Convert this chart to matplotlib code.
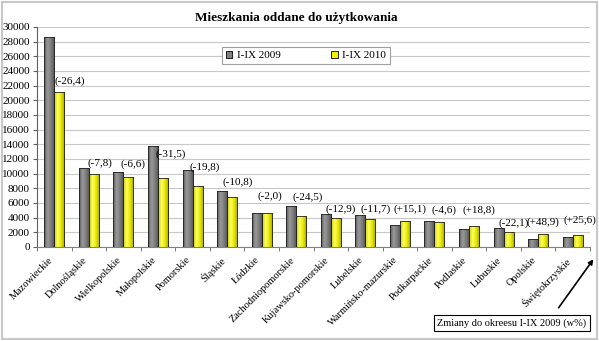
import numpy as np
import matplotlib.pyplot as plt
from matplotlib.patches import Patch, Rectangle
from matplotlib.colors import LinearSegmentedColormap

plt.rcParams['font.family'] = ['Liberation Serif', 'DejaVu Serif']

# data
regions = ['Mazowieckie', 'Dolnośląskie', 'Wielkopolskie', 'Małopolskie',
           'Pomorskie', 'Śląskie', 'Łódzkie', 'Zachodniopomorskie',
           'Kujawsko-pomorskie', 'Lubelskie', 'Warmińsko-mazurskie',
           'Podkarpackie', 'Podlaskie', 'Lubuskie', 'Opolskie',
           'Świętokrzyskie']
y2009 = [28700, 10730, 10250, 13730, 10450, 7590, 4680, 5590,
         4500, 4380, 3050, 3600, 2430, 2600, 1150, 1300]
y2010 = [21120, 9890, 9580, 9400, 8380, 6770, 4590, 4220,
         3920, 3870, 3510, 3435, 2885, 2025, 1712, 1633]
changes = ['(-26,4)', '(-7,8)', '(-6,6)', '(-31,5)', '(-19,8)', '(-10,8)',
           '(-2,0)', '(-24,5)', '(-12,9)', '(-11,7)', '(+15,1)', '(-4,6)',
           '(+18,8)', '(-22,1)', '(+48,9)', '(+25,6)']
# vertical gap (pixels) of each change label above the 2010 bar
label_gap = [11, 11, 13, 24, 18, 15, 17, 19, 9, 9, 12, 12, 16, 9, 12, 15]
label_dx = [10, 6, 5, 8, 7, 6, 3, 6, 5, 5, 5, 5, 5, 5, 0, 2]

fig = plt.figure(figsize=(5.99, 3.41), dpi=100)
ax = fig.add_axes([37 / 599, 1 - 247 / 341, 553 / 599, 220 / 341])

x = np.arange(len(regions))
w = 0.29
b1 = ax.bar(x - w / 2, y2009, w, color='#808080', edgecolor='#202020', lw=0.6, zorder=2)
b2 = ax.bar(x + w / 2, y2010, w, color='#f0f000', edgecolor='#202020', lw=0.6, zorder=2)

# cylinder-like shading on the bars
grey_cm = LinearSegmentedColormap.from_list('g', ['#5a5a5a', '#9a9a9a', '#7a7a7a', '#505050'])
yell_cm = LinearSegmentedColormap.from_list('y', ['#c8c800', '#ffff60', '#e6e600', '#a0a000'])
grad = np.linspace(0, 1, 64).reshape(1, -1)
for bars, cm in ((b1, grey_cm), (b2, yell_cm)):
    for p in bars:
        x0, y0 = p.get_x(), p.get_y()
        im = ax.imshow(grad, cmap=cm, aspect='auto', zorder=2.1,
                       extent=(x0, x0 + p.get_width(), y0, y0 + p.get_height()))
        im.set_clip_path(p)
        edge = Rectangle((x0, y0), p.get_width(), p.get_height(), fill=False,
                         ec='#202020', lw=0.6, zorder=2.2)
        ax.add_patch(edge)

for i, txt in enumerate(changes):
    ax.annotate(txt, (x[i] + w / 2, y2010[i]), xytext=(label_dx[i] * 0.72, label_gap[i] * 0.72),
                textcoords='offset points', ha='center', va='center', fontsize=8, zorder=5)

ax.set_xlim(-0.5, len(regions) - 0.5)
ax.set_ylim(0, 30000)
ax.set_yticks(np.arange(0, 30001, 2000))
ax.tick_params(axis='y', labelsize=8, length=3, color='#606060', pad=2)
ax.set_xticks(x)
ax.set_xticklabels(regions, rotation=45, ha='right', va='top', fontsize=7.5)
ax.set_xticks(np.arange(-0.5, len(regions), 1), minor=True)
ax.tick_params(axis='x', which='major', length=0, pad=6)
ax.tick_params(axis='x', which='minor', length=3, color='#606060')
ax.grid(axis='y', color='#c8c8c8', lw=0.8, zorder=0)
ax.set_axisbelow(True)
for s in ('top', 'right'):
    ax.spines[s].set_visible(False)
ax.spines['left'].set_color('#606060')
ax.spines['bottom'].set_color('#808080')

handles = [Patch(fc='#808080', ec='black', lw=0.6, label='I-IX 2009'),
           Patch(fc='#f0f000', ec='black', lw=0.6, label='I-IX 2010')]
leg = ax.legend(handles=handles, ncol=2, loc='center', mode='expand',
                bbox_to_anchor=(0.324, 0.832, 0.324, 0.077), fontsize=8,
                handlelength=0.6, handleheight=0.6, handletextpad=0.4,
                borderpad=0.35, columnspacing=2.0, fancybox=False, framealpha=1)
leg.get_frame().set_edgecolor('#a0a0a0')
leg.get_frame().set_linewidth(0.8)

fig.text(296 / 599, 1 - 18 / 341, 'Mieszkania oddane do użytkowania',
         ha='center', va='center', fontsize=9.5, fontweight='bold')

fig.text(512 / 599, 1 - 323 / 341, 'Zmiany do okreesu I-IX 2009 (w%)', ha='center', va='center',
         fontsize=7.5, bbox=dict(boxstyle='square,pad=0.35', fc='white', ec='black', lw=0.8))
ax.annotate('', xy=(595 / 599, 1 - 257 / 341), xytext=(557 / 599, 1 - 310 / 341),
            xycoords='figure fraction', textcoords='figure fraction',
            arrowprops=dict(arrowstyle='-|>', color='black', lw=1.2, mutation_scale=7),
            annotation_clip=False)

fig.patches.append(Rectangle((2 / 599, 2 / 341), 595 / 599, 337 / 341, transform=fig.transFigure,
                             fill=False, ec='#c8c8c8', lw=1.5))

fig.savefig('out.png', dpi=100)
